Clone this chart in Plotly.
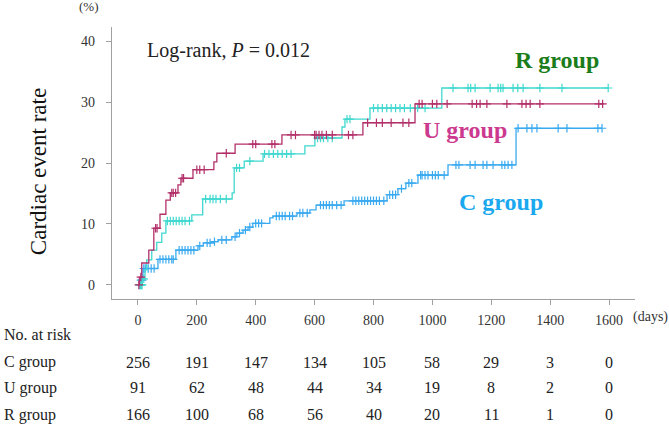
import numpy as np
import plotly.graph_objects as go

# ---------------- data ----------------
# Step (event) times in days and cumulative event rate (%)
c_times = [0, 8, 17, 68, 129, 204, 222, 256, 272, 319, 336, 357, 374, 390, 448, 459, 540, 584, 605, 700, 846, 883, 910, 951, 1053, 1284, 1576]
c_rates = [0, 0.8, 2.7, 4.2, 5.7, 6.4, 6.9, 7.1, 7.4, 7.9, 8.5, 9.0, 9.5, 10.1, 11.0, 11.3, 11.8, 12.3, 13.1, 13.8, 14.8, 15.8, 16.7, 18.0, 19.7, 25.7, 25.7]
c_censor = [10, 15, 20, 25, 35, 45, 55, 75, 85, 95, 105, 115, 120, 140, 150, 160, 170, 180, 190, 210, 235, 245, 260,
            285, 300, 330, 345, 365, 380, 400, 410, 420, 470, 480, 490, 500, 515, 525, 550, 560, 575, 620, 630, 640,
            650, 660, 675, 690, 730, 740, 750, 760, 770, 780, 790, 800, 810, 820, 835, 855, 865, 875, 895, 920, 930,
            960, 965, 975, 985, 1000, 1010, 1020, 1040, 1080, 1090, 1128, 1145, 1172, 1185, 1206, 1236, 1246, 1257,
            1270, 1291, 1321, 1338, 1355, 1427, 1457, 1562, 1576]

u_times = [0, 5, 13, 37, 54, 75, 95, 110, 136, 146, 187, 258, 268, 330, 489, 764, 941, 1583]
u_rates = [0, 1.3, 3.6, 5.7, 9.3, 11.6, 13.9, 15.1, 16.4, 17.5, 18.9, 20.2, 21.6, 23.1, 24.6, 26.6, 29.7, 29.7]
u_censor = [3, 10, 60, 65, 115, 120, 128, 150, 155, 200, 210, 225, 300, 390, 400, 455, 465, 520, 535, 600, 605, 615,
            625, 640, 660, 715, 730, 780, 810, 830, 860, 900, 920, 955, 965, 1000, 1015, 1050, 1135, 1150, 1162,
            1185, 1253, 1304, 1318, 1332, 1365, 1565, 1578]

r_times = [0, 15, 24, 30, 47, 64, 81, 95, 183, 220, 320, 327, 361, 425, 567, 601, 693, 703, 788, 1032, 1597]
r_rates = [0, 1.0, 2.5, 4.1, 5.7, 7.0, 8.5, 10.5, 11.5, 14.1, 15.1, 19.2, 20.3, 21.5, 22.8, 24.1, 25.9, 27.2, 29.0, 32.3, 32.3]
r_censor = [5, 8, 10, 12, 14, 20, 100, 110, 120, 130, 140, 150, 160, 175, 230, 245, 255, 265, 280, 300, 335, 345,
            380, 430, 445, 460, 475, 490, 505, 520, 610, 620, 630, 645, 660, 710, 720, 800, 815, 830, 845, 860, 875,
            890, 905, 925, 950, 975, 1070, 1121, 1130, 1145, 1196, 1223, 1232, 1240, 1274, 1290, 1308, 1365, 1440, 1597]

risk_days = [0, 200, 400, 600, 800, 1000, 1200, 1400, 1600]
risk_c = [256, 191, 147, 134, 105, 58, 29, 3, 0]
risk_u = [91, 62, 48, 44, 34, 19, 8, 2, 0]
risk_r = [166, 100, 68, 56, 40, 20, 11, 1, 0]

x_ticks = [0, 200, 400, 600, 800, 1000, 1200, 1400, 1600]
y_ticks = [0, 10, 20, 30, 40]

# ---------------- figure ----------------
FONT = "Liberation Serif"
col_c, col_u, col_r = "#3aaaf0", "#b3306a", "#3fd8cf"

fig = go.Figure()


def add_group(times, rates, censor, color):
    fig.add_trace(go.Scatter(x=times, y=rates, mode="lines", line=dict(shape="hv", color=color, width=1.3),
                             showlegend=False, hoverinfo="skip"))
    t = np.array(times)
    r = np.array(rates)
    idx = np.searchsorted(t, np.array(censor), side="right") - 1
    fig.add_trace(go.Scatter(x=censor, y=r[idx], mode="markers",
                             marker=dict(symbol="cross-thin", size=6, line=dict(color=color, width=1.2)),
                             showlegend=False, hoverinfo="skip"))


add_group(c_times, c_rates, c_censor, col_c)
add_group(r_times, r_rates, r_censor, col_r)
add_group(u_times, u_rates, u_censor, col_u)

axis_common = dict(showline=True, linecolor="#a0a0a0", linewidth=1.2, ticks="outside", ticklen=5,
                   tickcolor="#a0a0a0", showgrid=False, zeroline=False,
                   tickfont=dict(family=FONT, size=14, color="#333333"))

fig.update_layout(
    width=669, height=424,
    margin=dict(l=112, r=34, t=27, b=125),
    paper_bgcolor="white", plot_bgcolor="white",
    xaxis=dict(range=[-88, 1688], tickvals=x_ticks, ticklabelstandoff=3, **axis_common),
    yaxis=dict(range=[-2.3, 42.3], tickvals=y_ticks, ticklabelstandoff=8, **axis_common),
    font=dict(family=FONT),
)

ann = []


def add_text(text, x, y, xref="paper", yref="paper", size=16, color="#222222", xanchor="center", **kw):
    ann.append(dict(text=text, x=x, y=y, xref=xref, yref=yref, xanchor=xanchor, yanchor="middle",
                    showarrow=False, font=dict(family=FONT, size=size, color=color), **kw))


# axis titles / units
add_text("Cardiac event rate", -0.1415, 0.47, size=23, color="#111111", textangle=-90)
add_text("(%)", -0.044, 1.074, size=13, color="#333333")
add_text("(days)", 1.029, -0.068, size=14, color="#333333")
add_text("Log-rank, <i>P</i> = 0.012", 309, 38.5, xref="x", yref="y", size=20)
# group labels
add_text("<b>R group</b>", 1423, 36.9, xref="x", yref="y", size=24, color="#1a7d1a")
add_text("<b>U group</b>", 1111, 25.4, xref="x", yref="y", size=24, color="#cc3a90")
add_text("<b>C group</b>", 1233, 13.6, xref="x", yref="y", size=24, color="#1aa8ee")

# number at risk table
add_text("No. at risk", -0.21, -0.132, xanchor="left")
rows = [("C group", risk_c, -0.232), ("U group", risk_u, -0.327), ("R group", risk_r, -0.426)]
for name, vals, yy in rows:
    add_text(name, -0.21, yy, xanchor="left")
    for d, v in zip(risk_days, vals):
        add_text(str(v), d, yy, xref="x")

fig.update_layout(annotations=ann)
fig.write_html("out.html", post_script="document.body.style.margin='0';",
               config={"displayModeBar": False})
